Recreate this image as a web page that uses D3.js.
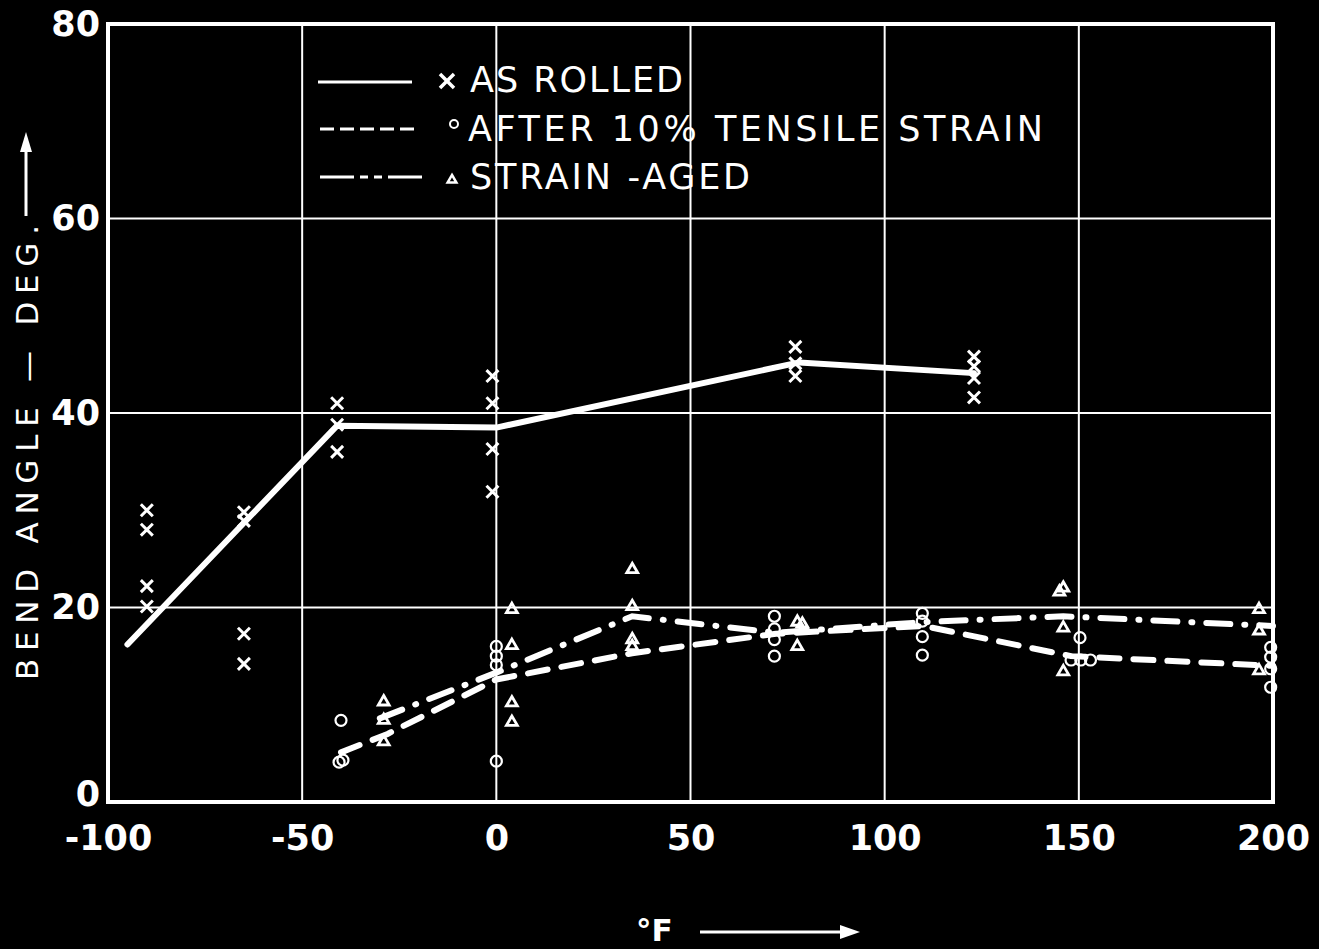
<!DOCTYPE html>
<html>
<head>
<meta charset="utf-8">
<script src="https://cdn.jsdelivr.net/npm/d3@7"></script>
<style>
  body { margin: 0; background: #000; }
  svg { display: block; background: #000; }
  text { fill: #fff; font-family: "DejaVu Sans", sans-serif; }
</style>
</head>
<body>
<div class="chart"></div>
<script>
// axis ticks
let xTicks = [-100, -50, 0, 50, 100, 150, 200];
let yTicks = [0, 20, 40, 60, 80];
let xGrid = [-50, 0, 50, 100, 150];
let yGrid = [20, 40, 60];

// legend
let seriesNames = ["AS ROLLED", "AFTER 10% TENSILE STRAIN", "STRAIN -AGED"];

// fitted curves
let rolledLineX = [-95, -41, 0, 78, 123];
let rolledLineY = [16.2, 38.7, 38.5, 45.2, 44.1];
let strainLineX = [-40, -28, 0, 35, 72, 110, 148, 200];
let strainLineY = [5.1, 7.0, 12.6, 15.3, 17.3, 18.1, 15.0, 14.0];
let agedLineX = [-30, 0, 35, 72, 110, 146, 200];
let agedLineY = [8.6, 13.3, 19.1, 17.4, 18.5, 19.1, 18.1];

// test points: as rolled (x)
let rolledX = [-90, -90, -90, -90, -65, -65, -65, -65, -41, -41, -41, -1, -1, -1, -1, 77, 77, 77, 123, 123, 123, 123];
let rolledY = [30, 28, 22.2, 20.1, 29.8, 28.9, 17.3, 14.2, 41, 38.8, 36, 43.8, 41, 36.3, 31.9, 46.8, 45.1, 43.8, 45.8, 44.8, 43.6, 41.6];

// after 10% tensile strain (o)
let strainX = [-40, -40.5, -39.5, 0, 0, 0, 0, 71.6, 71.6, 71.6, 71.6, 109.7, 109.7, 109.7, 109.7, 150.3, 148, 150.5, 153, 199.4, 199.4, 199.4, 199.4];
let strainY = [8.4, 4.1, 4.3, 16, 15, 14.1, 4.2, 19.1, 17.8, 16.7, 15, 19.4, 18.6, 17, 15.1, 16.9, 14.6, 14.6, 14.6, 15.9, 14.9, 13.7, 11.8];

// strain-aged (triangle)
let agedX = [-29, -29, -29, 4, 4, 4, 4, 35, 35, 35, 35, 77.5, 78.8, 77.5, 146, 145, 146, 146, 196.4, 196.4, 196.4];
let agedY = [10.3, 8.4, 6.2, 19.8, 16.1, 10.2, 8.2, 23.9, 20.1, 16.7, 16.0, 18.5, 18.3, 16, 22, 21.6, 17.9, 13.4, 19.8, 17.6, 13.5];

let width = 1319;
let height = 949;
let margin = { top: 24, left: 108, right: 46, bottom: 147 };
let plotW = width - margin.left - margin.right;
let plotH = height - margin.top - margin.bottom;

let svg = d3.select(".chart")
  .append("svg")
  .attr("width", width)
  .attr("height", height);

let x = d3.scaleLinear().domain([-100, 200]).range([margin.left, margin.left + plotW]);
let y = d3.scaleLinear().domain([0, 80]).range([margin.top + plotH, margin.top]);

// grid
svg.append("g")
  .selectAll("line.vgrid")
  .data(xGrid)
  .enter()
  .append("line")
  .attr("x1", d => x(d)).attr("x2", d => x(d))
  .attr("y1", y(0)).attr("y2", y(80))
  .attr("stroke", "#fff")
  .attr("stroke-width", 2);

svg.append("g")
  .selectAll("line.hgrid")
  .data(yGrid)
  .enter()
  .append("line")
  .attr("x1", x(-100)).attr("x2", x(200))
  .attr("y1", d => y(d)).attr("y2", d => y(d))
  .attr("stroke", "#fff")
  .attr("stroke-width", 2);

// frame
svg.append("rect")
  .attr("x", x(-100)).attr("y", y(80))
  .attr("width", x(200) - x(-100))
  .attr("height", y(0) - y(80))
  .attr("fill", "none")
  .attr("stroke", "#fff")
  .attr("stroke-width", 4);

// tick labels through d3 axes
let xAxis = svg.append("g")
  .attr("transform", "translate(0," + y(0) + ")")
  .call(d3.axisBottom(x).tickValues(xTicks).tickSize(0).tickPadding(23)
    .tickFormat(d => d < 0 ? "-" + Math.abs(d) : d));
xAxis.select(".domain").remove();
xAxis.selectAll("text")
  .attr("fill", "#fff")
  .style("font-family", "'DejaVu Sans', sans-serif")
  .style("font-weight", "bold")
  .style("font-size", "35px");

let yAxis = svg.append("g")
  .attr("transform", "translate(" + (x(-100) - 8) + ",0)")
  .call(d3.axisLeft(y).tickValues(yTicks).tickSize(0).tickPadding(0));
yAxis.select(".domain").remove();
yAxis.selectAll("text")
  .attr("fill", "#fff")
  .attr("y", d => d === 0 ? -8 : 0)
  .style("font-family", "'DejaVu Sans', sans-serif")
  .style("font-weight", "bold")
  .style("font-size", "35px");

// axis titles
svg.append("text")
  .attr("transform", "translate(38,680) rotate(-90)")
  .attr("textLength", 455)
  .attr("lengthAdjust", "spacing")
  .style("font-size", "31px")
  .text("BEND ANGLE — DEG.");

svg.append("line")
  .attr("x1", 26).attr("x2", 26).attr("y1", 216).attr("y2", 142)
  .attr("stroke", "#fff").attr("stroke-width", 3);
svg.append("path")
  .attr("d", "M26,132 L20,152 L32,152 Z")
  .attr("fill", "#fff");

svg.append("text")
  .attr("x", 636).attr("y", 941)
  .style("font-size", "31px")
  .style("font-weight", "bold")
  .text("°F");
svg.append("line")
  .attr("x1", 700).attr("x2", 848).attr("y1", 932).attr("y2", 932)
  .attr("stroke", "#fff").attr("stroke-width", 3);
svg.append("path")
  .attr("d", "M860,932 L840,925 L840,939 Z")
  .attr("fill", "#fff");

// curves
function toPts(xs, ys) {
  return xs.map((d, i) => [d, ys[i]]);
}
let line = d3.line().x(d => x(d[0])).y(d => y(d[1]));

svg.append("path")
  .datum(toPts(rolledLineX, rolledLineY))
  .attr("d", line)
  .attr("fill", "none")
  .attr("stroke", "#fff")
  .attr("stroke-width", 6)
  .attr("stroke-linecap", "round")
  .attr("stroke-linejoin", "round");

svg.append("path")
  .datum(toPts(strainLineX, strainLineY))
  .attr("d", line)
  .attr("fill", "none")
  .attr("stroke", "#fff")
  .attr("stroke-width", 6)
  .attr("stroke-linecap", "round")
  .attr("stroke-dasharray", "20,14");

svg.append("path")
  .datum(toPts(agedLineX, agedLineY))
  .attr("d", line)
  .attr("fill", "none")
  .attr("stroke", "#fff")
  .attr("stroke-width", 6)
  .attr("stroke-linecap", "round")
  .attr("stroke-dasharray", "24,14,1,14");

// markers
let xMark = d3.symbol(d3.symbolTimes, 95);
let triMark = d3.symbol(d3.symbolTriangle2, 85);

svg.append("g")
  .selectAll("path")
  .data(toPts(rolledX, rolledY))
  .enter()
  .append("path")
  .attr("transform", d => "translate(" + x(d[0]) + "," + y(d[1]) + ")")
  .attr("d", xMark)
  .attr("fill", "none")
  .attr("stroke", "#fff")
  .attr("stroke-width", 3);

svg.append("g")
  .selectAll("circle")
  .data(toPts(strainX, strainY))
  .enter()
  .append("circle")
  .attr("cx", d => x(d[0]))
  .attr("cy", d => y(d[1]))
  .attr("r", 5.5)
  .attr("fill", "none")
  .attr("stroke", "#fff")
  .attr("stroke-width", 2.2);

svg.append("g")
  .selectAll("path")
  .data(toPts(agedX, agedY))
  .enter()
  .append("path")
  .attr("transform", d => "translate(" + x(d[0]) + "," + y(d[1]) + ")")
  .attr("d", triMark)
  .attr("fill", "none")
  .attr("stroke", "#fff")
  .attr("stroke-width", 2.8);

// legend
let legend = svg.append("g");
legend.append("line")
  .attr("x1", 318).attr("x2", 412).attr("y1", 82).attr("y2", 82)
  .attr("stroke", "#fff").attr("stroke-width", 3);
legend.append("line")
  .attr("x1", 320).attr("x2", 414).attr("y1", 129).attr("y2", 129)
  .attr("stroke", "#fff").attr("stroke-width", 3)
  .attr("stroke-dasharray", "14,6");
legend.append("line")
  .attr("x1", 320).attr("x2", 423).attr("y1", 177).attr("y2", 177)
  .attr("stroke", "#fff").attr("stroke-width", 3)
  .attr("stroke-dasharray", "34,6,8,6,8,6");

legend.append("path")
  .attr("transform", "translate(447,81)")
  .attr("d", d3.symbol(d3.symbolTimes, 130))
  .attr("fill", "none").attr("stroke", "#fff").attr("stroke-width", 3.5);
legend.append("circle")
  .attr("cx", 454).attr("cy", 124).attr("r", 4)
  .attr("fill", "none").attr("stroke", "#fff").attr("stroke-width", 2);
legend.append("path")
  .attr("transform", "translate(452,180)")
  .attr("d", d3.symbol(d3.symbolTriangle2, 55))
  .attr("fill", "none").attr("stroke", "#fff").attr("stroke-width", 2.5);

let legendX = [470, 468, 470];
let legendY = [92, 141, 189];
let legendLen = [213, 575, 280];
legend.selectAll("text")
  .data(seriesNames)
  .enter()
  .append("text")
  .attr("x", (d, i) => legendX[i])
  .attr("y", (d, i) => legendY[i])
  .attr("textLength", (d, i) => legendLen[i])
  .attr("lengthAdjust", "spacing")
  .style("font-size", "35px")
  .text(d => d);
</script>
</body>
</html>
